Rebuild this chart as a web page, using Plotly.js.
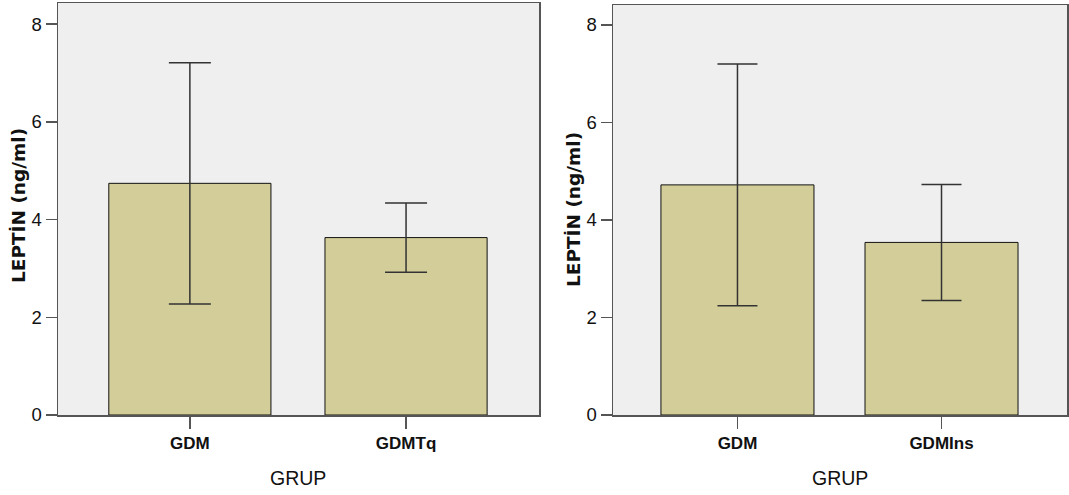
<!DOCTYPE html>
<html><head><meta charset="utf-8">
<script src="https://cdn.plot.ly/plotly-3.0.1.min.js"></script>
<style>html,body{margin:0;padding:0;background:#fff;}#c{width:1069px;height:495px;}</style>
</head><body><div id="c"></div>
<script>
const categoriesLeft = ['GDM', 'GDMTq'];
const meansLeft = [4.74, 3.63];
const errorsLeft = [2.47, 0.71];

const categoriesRight = ['GDM', 'GDMIns'];
const meansRight = [4.72, 3.54];
const errorsRight = [2.48, 1.19];

const yTicks = [0, 2, 4, 6, 8];
const yTitle = 'LEPTİN (ng/ml)';
const xTitle = 'GRUP';

const W = 1069, H = 495;
const sans = '"Liberation Sans", Arial, sans-serif';
const barFill = '#d3ce99';

function barTrace(cats, vals, errs, xa, ya, capw) {
  return {
    type: 'bar', x: cats, y: vals, xaxis: xa, yaxis: ya, width: 0.75,
    marker: {color: barFill, line: {color: '#111', width: 1}},
    error_y: {type: 'data', array: errs, visible: true, color: '#333', thickness: 1.5, width: capw},
    hoverinfo: 'skip', showlegend: false
  };
}

const data = [
  barTrace(categoriesLeft, meansLeft, errorsLeft, 'x', 'y', 21),
  barTrace(categoriesRight, meansRight, errorsRight, 'x2', 'y2', 20)
];

function xax(domain) {
  return {
    domain: domain, type: 'category', range: [-0.61, 1.615],
    showline: true, mirror: true, linecolor: '#555', linewidth: 1.5,
    ticks: 'outside', ticklen: 12, tickcolor: '#555', tickwidth: 1.5,
    tickfont: {family: sans, size: 17, color: '#111', weight: 'bold'},
    showgrid: false, zeroline: false, fixedrange: true
  };
}
function yax(domain, top, anchor) {
  return {
    domain: domain, range: [0, top], anchor: anchor,
    tickvals: yTicks, ticktext: yTicks.map(String),
    showline: true, mirror: true, linecolor: '#555', linewidth: 1.5,
    ticks: 'outside', ticklen: 11, tickcolor: '#555', tickwidth: 1.5,
    tickfont: {family: sans, size: 18.5, color: '#111'},
    ticklabelstandoff: 0,
    showgrid: false, zeroline: false, fixedrange: true
  };
}

const titleFont = {family: 'DejaVu Sans, sans-serif', size: 18.5, color: '#111', weight: 'bold'};
const grupFont = {family: sans, size: 19.5, color: '#111'};

const layout = {
  width: W, height: H,
  margin: {l: 0, r: 0, t: 0, b: 0},
  paper_bgcolor: '#ffffff', plot_bgcolor: '#efefef',
  bargap: 0.25,
  xaxis: Object.assign(xax([58 / W, 539 / W]), {anchor: 'y'}),
  yaxis: yax([1 - 415 / H, 1 - 3 / H], 8.43, 'x'),
  xaxis2: Object.assign(xax([613 / W, 1067 / W]), {anchor: 'y2'}),
  yaxis2: yax([1 - 415 / H, 1 - 5 / H], 8.41, 'x2'),
  annotations: [
    {text: yTitle, xref: 'paper', yref: 'paper', x: 18 / W, y: 1 - 206 / H, textangle: -90, showarrow: false,
     xanchor: 'center', yanchor: 'middle', font: titleFont},
    {text: yTitle, xref: 'paper', yref: 'paper', x: 573 / W, y: 1 - 210 / H, textangle: -90, showarrow: false,
     xanchor: 'center', yanchor: 'middle', font: titleFont},
    {text: xTitle, xref: 'paper', yref: 'paper', x: 298 / W, y: 1 - 478 / H, showarrow: false,
     xanchor: 'center', yanchor: 'middle', font: grupFont},
    {text: xTitle, xref: 'paper', yref: 'paper', x: 840 / W, y: 1 - 478 / H, showarrow: false,
     xanchor: 'center', yanchor: 'middle', font: grupFont}
  ]
};

Plotly.newPlot('c', data, layout, {staticPlot: true, displayModeBar: false});
</script>
</body></html>
